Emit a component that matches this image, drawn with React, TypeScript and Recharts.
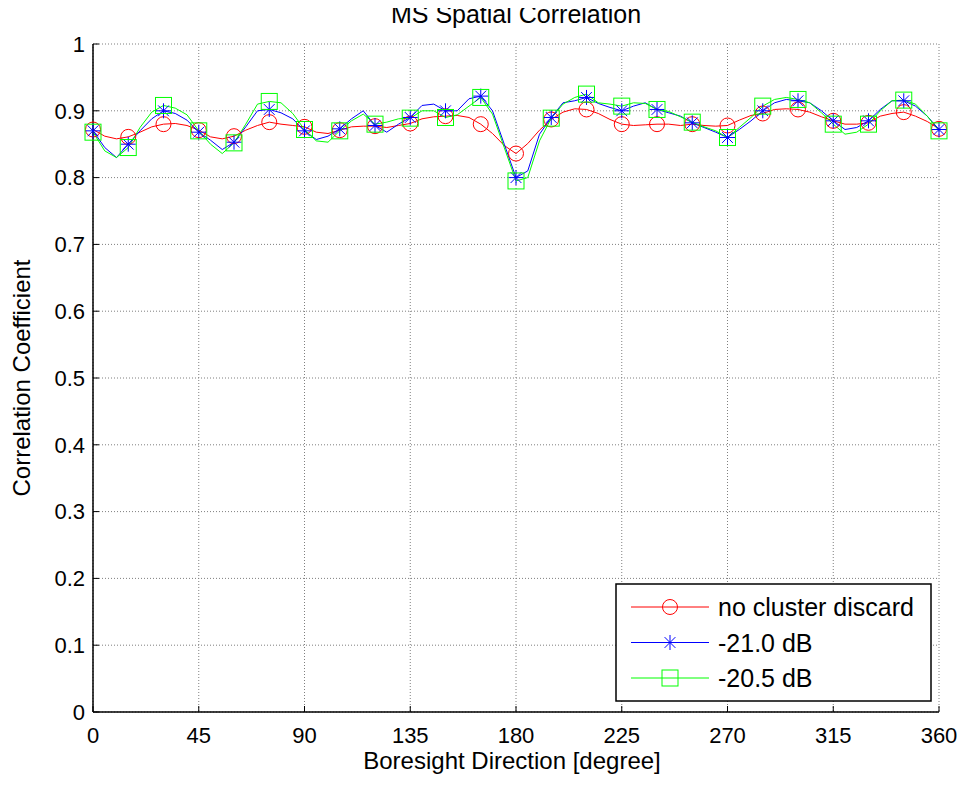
import React from 'react';
import { LineChart, Line, XAxis, YAxis, CartesianGrid } from 'recharts';

const degrees = [
  0, 5, 10, 15, 20, 25, 30, 35, 40, 45, 50, 55, 60, 65, 70, 75, 80, 85, 90,
  95, 100, 105, 110, 115, 120, 125, 130, 135, 140, 145, 150, 155, 160, 165, 170, 175, 180,
  185, 190, 195, 200, 205, 210, 215, 220, 225, 230, 235, 240, 245, 250, 255, 260, 265, 270,
  275, 280, 285, 290, 295, 300, 305, 310, 315, 320, 325, 330, 335, 340, 345, 350, 355, 360,
];

const noDiscard = [
  0.872, 0.862, 0.858, 0.861, 0.868, 0.876, 0.880, 0.881, 0.878, 0.871, 0.861, 0.858, 0.862, 0.871, 0.878, 0.883, 0.880, 0.878, 0.876,
  0.868, 0.866, 0.871, 0.876, 0.877, 0.877, 0.875, 0.878, 0.881, 0.888, 0.891, 0.892, 0.893, 0.890, 0.880, 0.866, 0.848, 0.836,
  0.851, 0.871, 0.887, 0.898, 0.903, 0.902, 0.896, 0.887, 0.880, 0.878, 0.879, 0.880, 0.880, 0.878, 0.880, 0.878, 0.877, 0.878,
  0.886, 0.893, 0.896, 0.902, 0.903, 0.902, 0.898, 0.891, 0.885, 0.880, 0.880, 0.882, 0.892, 0.896, 0.898, 0.892, 0.884, 0.873,
];

const db210 = [
  0.870, 0.845, 0.830, 0.850, 0.870, 0.888, 0.900, 0.896, 0.886, 0.868, 0.856, 0.842, 0.853, 0.876, 0.900, 0.902, 0.897, 0.888, 0.870,
  0.857, 0.862, 0.873, 0.888, 0.900, 0.878, 0.868, 0.880, 0.890, 0.908, 0.910, 0.900, 0.900, 0.918, 0.922, 0.900, 0.850, 0.800,
  0.810, 0.865, 0.890, 0.912, 0.915, 0.920, 0.911, 0.905, 0.900, 0.907, 0.912, 0.902, 0.897, 0.892, 0.882, 0.875, 0.868, 0.860,
  0.872, 0.885, 0.900, 0.912, 0.917, 0.915, 0.912, 0.900, 0.885, 0.872, 0.875, 0.885, 0.902, 0.915, 0.915, 0.907, 0.892, 0.872,
];

const db205 = [
  0.868, 0.840, 0.830, 0.845, 0.875, 0.898, 0.908, 0.904, 0.894, 0.870, 0.850, 0.836, 0.852, 0.880, 0.910, 0.914, 0.912, 0.896, 0.872,
  0.855, 0.853, 0.870, 0.885, 0.895, 0.880, 0.883, 0.888, 0.889, 0.900, 0.900, 0.890, 0.894, 0.907, 0.920, 0.895, 0.845, 0.795,
  0.800, 0.855, 0.889, 0.910, 0.920, 0.925, 0.912, 0.910, 0.907, 0.912, 0.911, 0.902, 0.899, 0.891, 0.883, 0.876, 0.870, 0.860,
  0.875, 0.890, 0.907, 0.917, 0.920, 0.917, 0.912, 0.897, 0.880, 0.865, 0.868, 0.880, 0.900, 0.915, 0.916, 0.910, 0.892, 0.870,
];

const xTicks = [0, 45, 90, 135, 180, 225, 270, 315, 360];
const yTicks = [0, 0.1, 0.2, 0.3, 0.4, 0.5, 0.6, 0.7, 0.8, 0.9, 1];
const markerEvery = 15;

const seriesNames = ['no cluster discard', '-21.0 dB', '-20.5 dB'];

const rows = degrees.map((d, i) => ({
  deg: d,
  a: noDiscard[i],
  b: db210[i],
  c: db205[i],
}));

const FONT = '"Liberation Sans", Arial, Helvetica, sans-serif';
const RED = '#ff0000';
const BLUE = '#0000ff';
const GREEN = '#00ff00';

type Kind = 'circle' | 'star' | 'square';

function Marker({ kind, cx, cy, color }: { kind: Kind; cx: number; cy: number; color: string }) {
  if (kind === 'circle') {
    return <circle cx={cx} cy={cy} r={7.5} fill="none" stroke={color} strokeWidth={1} />;
  }
  if (kind === 'square') {
    return <rect x={cx - 8} y={cy - 8} width={16} height={16} fill="none" stroke={color} strokeWidth={1} />;
  }
  const r = 7.5;
  const d = r * 0.72;
  return (
    <g stroke={color} strokeWidth={1}>
      <line x1={cx - r} y1={cy} x2={cx + r} y2={cy} />
      <line x1={cx} y1={cy - r} x2={cx} y2={cy + r} />
      <line x1={cx - d} y1={cy - d} x2={cx + d} y2={cy + d} />
      <line x1={cx - d} y1={cy + d} x2={cx + d} y2={cy - d} />
    </g>
  );
}

const makeDot = (kind: Kind, color: string) => (props: any) => {
  const { cx, cy, payload, index } = props;
  if (payload == null || payload.deg % markerEvery !== 0 || cx == null || cy == null) {
    return <g key={`e-${kind}-${index}`} />;
  }
  return (
    <g key={`m-${kind}-${index}`}>
      <Marker kind={kind} cx={cx} cy={cy} color={color} />
    </g>
  );
};

const W = 960;
const H = 779;

export default function App() {
  const tickStyle = { fontFamily: FONT, fontSize: 22, fill: '#000' };
  const legendRows: { name: string; color: string; kind: Kind }[] = [
    { name: seriesNames[0], color: RED, kind: 'circle' },
    { name: seriesNames[1], color: BLUE, kind: 'star' },
    { name: seriesNames[2], color: GREEN, kind: 'square' },
  ];
  return (
    <div style={{ position: 'relative', width: W, height: H, background: '#fff' }}>
      <LineChart width={W} height={H} data={rows} margin={{ top: 36, right: 29, bottom: 15, left: 5 }}>
        <CartesianGrid stroke="#7f7f7f" strokeDasharray="1 2" strokeWidth={1} />
        <XAxis
          dataKey="deg"
          type="number"
          domain={[0, 360]}
          ticks={xTicks}
          interval={0}
          height={60}
          tickSize={-6}
          tickMargin={21}
          axisLine={{ stroke: '#000', strokeWidth: 1.5 }}
          tickLine={{ stroke: '#000' }}
          tick={tickStyle}
        />
        <XAxis
          xAxisId="top"
          dataKey="deg"
          type="number"
          domain={[0, 360]}
          ticks={xTicks}
          interval={0}
          orientation="top"
          height={0}
          tickSize={-6}
          tick={false}
          axisLine={{ stroke: '#000', strokeWidth: 1.5 }}
          tickLine={{ stroke: '#000' }}
        />
        <YAxis
          type="number"
          domain={[0, 1]}
          ticks={yTicks}
          interval={0}
          width={80}
          tickSize={-6}
          tickMargin={14}
          tickFormatter={(v: number) => String(Number(v.toFixed(1)))}
          axisLine={{ stroke: '#000', strokeWidth: 1.5 }}
          tickLine={{ stroke: '#000' }}
          tick={tickStyle}
        />
        <YAxis
          yAxisId="right"
          type="number"
          domain={[0, 1]}
          ticks={yTicks}
          interval={0}
          orientation="right"
          width={0}
          tickSize={-6}
          tick={false}
          axisLine={{ stroke: '#000', strokeWidth: 1.5 }}
          tickLine={{ stroke: '#000' }}
        />
        <Line
          type="linear"
          dataKey="a"
          name={seriesNames[0]}
          stroke={RED}
          strokeWidth={1}
          dot={makeDot('circle', RED)}
          activeDot={false}
          isAnimationActive={false}
        />
        <Line
          type="linear"
          dataKey="b"
          name={seriesNames[1]}
          stroke={BLUE}
          strokeWidth={1}
          dot={makeDot('star', BLUE)}
          activeDot={false}
          isAnimationActive={false}
        />
        <Line
          type="linear"
          dataKey="c"
          name={seriesNames[2]}
          stroke={GREEN}
          strokeWidth={1}
          dot={makeDot('square', GREEN)}
          activeDot={false}
          isAnimationActive={false}
        />
      </LineChart>
      <svg
        width={W}
        height={H}
        style={{ position: 'absolute', left: 0, top: 0, pointerEvents: 'none', overflow: 'visible' }}
        fontFamily={FONT}
      >
        <text x={508} y={15} textAnchor="middle" fontSize={25} fill="#000">
          MS Spatial Correlation
        </text>
        <text x={504} y={761} textAnchor="middle" fontSize={24} fill="#000">
          Boresight Direction [degree]
        </text>
        <text x={22} y={370} textAnchor="middle" fontSize={24} fill="#000" transform="rotate(-90 22 370)">
          Correlation Coefficient
        </text>
        <g>
          <rect x={608} y={576} width={315} height={117} fill="#fff" stroke="#000" strokeWidth={1.5} />
          {legendRows.map((r, i) => {
            const cy = 599 + i * 35.5;
            return (
              <g key={r.name}>
                <line x1={623} y1={cy} x2={701} y2={cy} stroke={r.color} strokeWidth={1} />
                <Marker kind={r.kind} cx={662} cy={cy} color={r.color} />
                <text x={710} y={cy + 9} fontSize={25} fill="#000">
                  {r.name}
                </text>
              </g>
            );
          })}
        </g>
      </svg>
    </div>
  );
}
